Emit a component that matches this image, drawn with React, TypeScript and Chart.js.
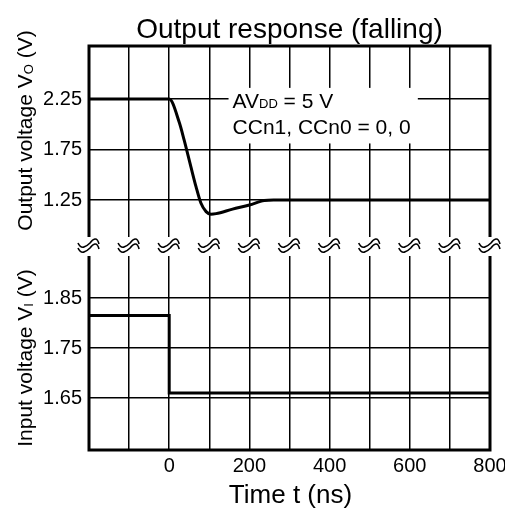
import { useEffect, useRef } from 'react';
import { Chart, registerables } from 'chart.js';

Chart.register(...registerables);

// ---- data ----
const outTime = [-200, 0, 25, 37.5, 54, 67, 79, 92, 104, 117, 158, 200, 237, 260, 800];
const outVolt = [2.25, 2.25, 2.02, 1.84, 1.58, 1.38, 1.22, 1.135, 1.11, 1.115, 1.16, 1.2, 1.245, 1.25, 1.25];
const inTime = [-200, 0, 0, 800];
const inVolt = [1.815, 1.815, 1.66, 1.66];

const gridTimes = [-200, -100, 0, 100, 200, 300, 400, 500, 600, 700, 800];
const xLabels = [0, 200, 400, 600, 800];
const topTicks = [1.25, 1.75, 2.25];
const botTicks = [1.65, 1.75, 1.85];

const titleText = 'Output response (falling)';
const xTitle = 'Time t (ns)';
const annotLine1 = ['AV', 'DD', ' = 5 V'];
const annotLine2 = 'CCn1, CCn0 = 0, 0';

const FONT = '"Liberation Sans", Arial, Helvetica, sans-serif';

type Part = { t: string; size: number; dy?: number };

function drawParts(ctx: CanvasRenderingContext2D, parts: Part[], x: number, y: number, align: 'left' | 'center') {
  let total = 0;
  for (const p of parts) {
    ctx.font = `${p.size}px ${FONT}`;
    total += ctx.measureText(p.t).width;
  }
  let cx = align === 'center' ? x - total / 2 : x;
  ctx.textAlign = 'left';
  ctx.textBaseline = 'alphabetic';
  for (const p of parts) {
    ctx.font = `${p.size}px ${FONT}`;
    ctx.fillText(p.t, cx, y + (p.dy || 0));
    cx += ctx.measureText(p.t).width;
  }
}

function drawBreak(ctx: CanvasRenderingContext2D, cx: number, cy: number) {
  ctx.beginPath();
  for (const off of [-2.5, 2.5]) {
    ctx.moveTo(cx - 11, cy + off - 1);
    ctx.bezierCurveTo(cx - 8, cy + off + 6, cx - 3, cy + off + 3, cx + 1, cy + off - 1);
    ctx.bezierCurveTo(cx + 4, cy + off - 5, cx + 8, cy + off - 8, cx + 10, cy + off);
  }
  ctx.lineWidth = 1.6;
  ctx.strokeStyle = '#000';
  ctx.lineCap = 'butt';
  ctx.stroke();
}

const decor = {
  id: 'decor',
  beforeDatasetsDraw(chart: any) {
    const ctx: CanvasRenderingContext2D = chart.ctx;
    const xs = chart.scales.x;
    const yt = chart.scales.yTop;
    const x0 = xs.getPixelForValue(148);
    const x1 = xs.getPixelForValue(620);
    const y0 = yt.getPixelForValue(2.36);
    const y1 = yt.getPixelForValue(1.81);
    ctx.save();
    ctx.fillStyle = '#fff';
    ctx.fillRect(x0, y0, x1 - x0, y1 - y0);
    ctx.fillStyle = '#000';
    const tx = x0 + 4;
    drawParts(ctx, [
      { t: annotLine1[0], size: 21 },
      { t: annotLine1[1], size: 13 },
      { t: annotLine1[2], size: 21 },
    ], tx, yt.getPixelForValue(2.25) + 9, 'left');
    drawParts(ctx, [{ t: annotLine2, size: 21 }], tx, yt.getPixelForValue(2.25) + 35, 'left');
    ctx.restore();
  },
  afterDatasetsDraw(chart: any) {
    const ctx: CanvasRenderingContext2D = chart.ctx;
    const { left, right, top, bottom } = chart.chartArea;
    const xs = chart.scales.x;
    const breakY = chart.scales.yTop.bottom;
    ctx.save();
    ctx.strokeStyle = '#000';
    ctx.lineWidth = 3;
    ctx.lineCap = 'square';
    ctx.strokeRect(left, top, right - left, bottom - top);
    ctx.fillStyle = '#fff';
    ctx.fillRect(left - 3, breakY - 9, right - left + 6, 19);
    for (const t of gridTimes) {
      drawBreak(ctx, xs.getPixelForValue(t), breakY + 0.5);
    }
    ctx.restore();
  },
  afterDraw(chart: any) {
    const ctx: CanvasRenderingContext2D = chart.ctx;
    const { left, right, top, bottom } = chart.chartArea;
    const cxm = (left + right) / 2;
    ctx.save();
    ctx.fillStyle = '#000';
    drawParts(ctx, [{ t: titleText, size: 28 }], cxm, top - 8, 'center');
    drawParts(ctx, [{ t: xTitle, size: 26 }], cxm + 1, bottom + 53, 'center');
    const yt = chart.scales.yTop;
    const yb = chart.scales.yBot;
    ctx.translate(32, yt.getPixelForValue(1.75) - 19);
    ctx.rotate(-Math.PI / 2);
    drawParts(ctx, [
      { t: 'Output voltage V', size: 21 },
      { t: 'O', size: 13, dy: 1 },
      { t: ' (V)', size: 21 },
    ], 0, 0, 'center');
    ctx.setTransform(1, 0, 0, 1, 0, 0);
    ctx.translate(32, yb.getPixelForValue(1.75) + 10);
    ctx.rotate(-Math.PI / 2);
    drawParts(ctx, [
      { t: 'Input voltage V', size: 21 },
      { t: 'I', size: 13, dy: 1 },
      { t: ' (V)', size: 21 },
    ], 0, 0, 'center');
    ctx.restore();
  },
};

export default function App() {
  const ref = useRef<HTMLCanvasElement>(null);
  useEffect(() => {
    const tickFont = { family: FONT, size: 20 };
    const yCommon = (ticks: number[]) => ({
      type: 'linear' as const,
      position: 'left' as const,
      stack: 'v',
      afterBuildTicks: (s: any) => { s.ticks = ticks.map((v) => ({ value: v })); },
      afterFit: (s: any) => { s.width = 89; s.paddingTop = 0; s.paddingBottom = 0; },
      ticks: { color: '#000', font: tickFont, padding: 7, callback: (v: any) => Number(v).toFixed(2) },
      grid: { color: '#000', lineWidth: 1.5, drawTicks: false },
      border: { display: false },
    });
    const chart = new Chart(ref.current!, {
      type: 'line',
      data: {
        datasets: [
          {
            data: outTime.map((t, i) => ({ x: t, y: outVolt[i] })),
            yAxisID: 'yTop',
            borderColor: '#000',
            borderWidth: 3,
            pointRadius: 0,
            cubicInterpolationMode: 'monotone',
            fill: false,
          },
          {
            data: inTime.map((t, i) => ({ x: t, y: inVolt[i] })),
            yAxisID: 'yBot',
            borderColor: '#000',
            borderWidth: 3,
            pointRadius: 0,
            tension: 0,
            borderJoinStyle: 'miter',
            fill: false,
          },
        ],
      },
      options: {
        responsive: false,
        animation: false,
        layout: { padding: { top: 46, right: 15, left: 0, bottom: 0 } },
        plugins: { legend: { display: false }, tooltip: { enabled: false }, title: { display: false } },
        scales: {
          x: {
            type: 'linear',
            min: -200,
            max: 800,
            afterBuildTicks: (s: any) => { s.ticks = gridTimes.map((v) => ({ value: v })); },
            afterFit: (s: any) => { s.height = 62; s.paddingLeft = 0; s.paddingRight = 0; },
            ticks: {
              autoSkip: false,
              maxRotation: 0,
              padding: 4,
              color: '#000',
              font: tickFont,
              callback: (v: any) => (xLabels.includes(Number(v)) ? String(v) : ''),
            },
            grid: { color: '#000', lineWidth: 1.5, drawTicks: false },
            border: { display: false },
          },
          yBot: { ...yCommon(botTicks), min: 1.546, max: 1.954, stackWeight: 204, weight: 0 },
          yTop: { ...yCommon(topTicks), min: 0.7946, max: 2.7748, stackWeight: 200, weight: 1 },
        },
      } as any,
      plugins: [decor],
    });
    return () => chart.destroy();
  }, []);
  return (
    <div style={{ position: 'absolute', left: 0, top: 0, width: 505, height: 512, background: '#fff' }}>
      <canvas ref={ref} width={505} height={512} style={{ display: 'block' }} />
    </div>
  );
}
